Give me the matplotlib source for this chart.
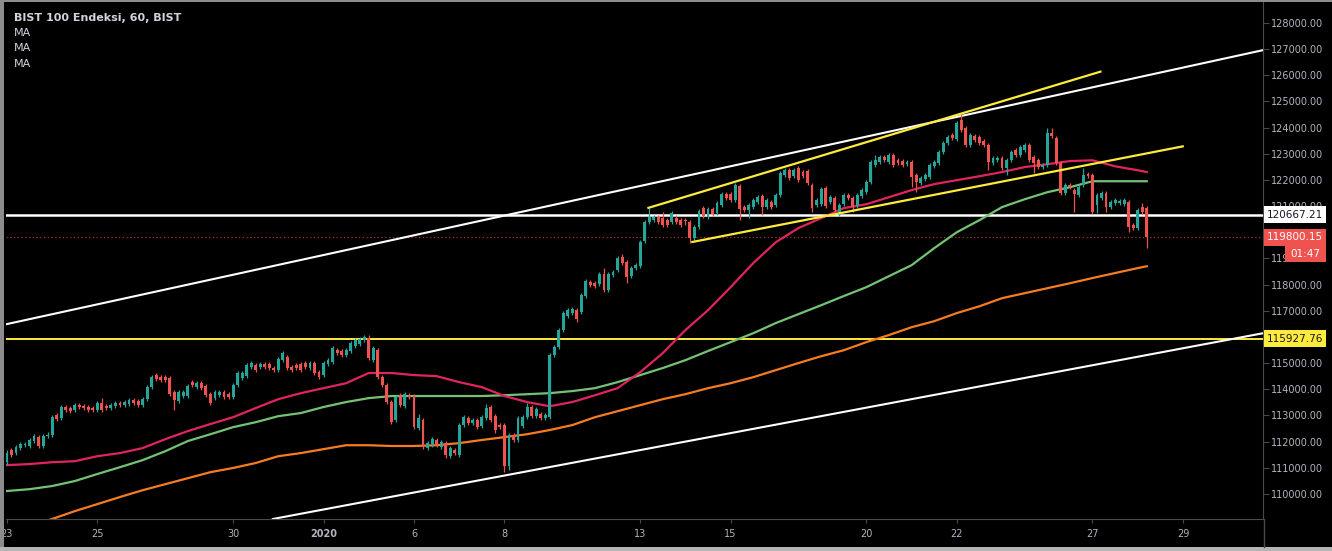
import matplotlib
matplotlib.use("Agg")
import matplotlib.pyplot as plt
import numpy as np
from matplotlib.patches import Rectangle
from matplotlib.lines import Line2D
from matplotlib.transforms import IdentityTransform

# ---------------- data (hourly bars, 10 per trading day) ----------------
open_ = [
    111210,111670,111560,111750,111860,111830,112020,112170,111830,112210,
    112250,113010,112900,113320,113280,113200,113390,113350,113320,113280,
    113200,113470,113350,113280,113350,113470,113390,113430,113580,113550,
    113390,113620,114080,114540,114460,114460,114420,113890,113550,113740,
    113740,114270,114080,114230,114120,113810,113660,113770,113890,113810,
    113700,114160,114420,114500,114840,114920,114840,114960,114960,114810,
    114730,115110,115230,114840,114920,114960,115000,114810,115000,114650,
    114540,114960,115040,115490,115460,115300,115460,115650,115720,115880,
    115950,115110,115490,114460,114160,113510,112820,113770,113350,113770,
    113740,112510,112820,111750,111860,112060,111790,111940,111440,111670,
    111480,112630,112900,112710,112820,112590,112900,113320,112970,112630,
    112630,111060,112250,112060,112590,112930,113320,112970,113050,112900,
    112930,115300,115610,116260,116790,116910,117020,116950,117560,118090,
    118050,118020,118400,117790,118360,118550,119050,118860,118320,118630,
    118700,119660,120390,120460,120580,120540,120460,120390,120540,120460,
    120460,120390,119770,120190,120920,120580,120880,120730,121030,121450,
    121450,121230,121760,120960,120840,120960,121150,121380,120960,121150,
    121030,121420,122180,122370,122140,122450,122300,122330,121800,121030,
    121070,121680,121150,121300,120650,121070,121420,121300,120990,121380,
    121530,121910,122560,122680,122870,122680,122940,122750,122720,122600,
    122680,122180,121870,122030,122100,122520,122640,123060,123400,123710,
    123560,124280,123980,123330,123670,123630,123480,123330,122640,122750,
    122830,122450,122750,123140,122940,123140,123330,122870,122750,122490,
    122560,123790,123600,122640,121490,121800,121610,121420,121800,122220,
    122180,121030,121300,121490,120960,121110,121110,121070,121150,120270,
    120160,120960,120920,
]
high = [
    111670,111750,111860,111980,111980,112130,112280,112250,112280,112360,
    113010,113090,113390,113390,113350,113470,113470,113430,113390,113350,
    113550,113660,113430,113470,113550,113550,113580,113660,113660,113620,
    113700,114160,114540,114620,114540,114540,114500,113970,113970,113970,
    114190,114350,114310,114310,114190,113890,113970,113970,113970,113890,
    114230,114690,114690,115000,115070,115000,115040,115040,115040,114880,
    115230,115460,115300,114920,115000,115040,115070,115070,115070,114730,
    115070,115190,115650,115570,115530,115570,115840,115950,115990,116070,
    116070,115650,115570,114540,114230,113580,113770,113850,113890,113850,
    113810,113050,112900,112020,112170,112130,112060,112020,111830,111750,
    112710,113010,112970,112900,112900,113010,113430,113390,113050,112710,
    112710,112320,112320,112970,113010,113470,113390,113320,113130,113090,
    115380,115690,116330,116980,117100,117140,117100,117670,118210,118170,
    118130,118470,118630,118470,118550,119090,119160,118930,118700,118820,
    119700,120460,120920,120650,120650,120770,120540,120810,120650,120540,
    120540,120460,120270,120880,121000,120960,120960,121190,121530,121530,
    121530,121880,121840,121030,121110,121300,121420,121450,121300,121230,
    121490,122330,122450,122450,122450,122520,122370,122410,121880,121300,
    121720,121760,121420,121380,121110,121490,121490,121380,121490,121680,
    121990,122750,122940,122940,122940,123020,123020,122830,122790,122750,
    122750,122260,122140,122260,122640,122750,123140,123480,123710,123790,
    124240,124510,124050,123790,123750,123710,123560,123400,122910,122910,
    122910,122830,123140,123210,123330,123400,123400,122940,122830,122640,
    123980,123980,123670,122720,121880,121880,121680,121800,122450,122300,
    122260,121490,121570,121570,121230,121300,121260,121300,121230,120350,
    120920,121110,121000,
]
low = [
    111100,111410,111480,111670,111790,111750,111940,111750,111750,112130,
    112170,112780,112820,113130,113090,113130,113240,113200,113130,113130,
    113130,113130,113200,113200,113280,113320,113320,113350,113390,113320,
    113320,113550,114000,114310,114270,114270,113740,113200,113470,113660,
    113660,114080,114000,113970,113700,113390,113580,113700,113620,113620,
    113620,114080,114350,114420,114770,114650,114770,114770,114730,114650,
    114650,115040,114730,114650,114730,114650,114770,114730,114540,114390,
    114460,114880,114960,115300,115230,115230,115380,115570,115650,115800,
    115110,115040,114390,114080,113430,112670,112740,113320,113280,113620,
    112480,112440,111710,111670,111790,111790,111710,111370,111370,111480,
    111410,112550,112630,112630,112480,112510,112820,112740,112320,112480,
    110830,110910,111980,111980,112510,112860,112900,112900,112820,112820,
    112860,115230,115530,116180,116720,116830,116560,116870,117480,117900,
    117870,117940,117710,117710,118280,118470,118740,118050,118250,118550,
    118630,119580,120310,120390,120310,120190,120190,120310,120310,120190,
    120270,119580,119700,120120,120540,120500,120610,120650,120960,121230,
    121150,121150,120460,120770,120540,120880,121070,120650,120880,120880,
    120960,121340,122100,121990,122070,121910,122070,121800,120770,120960,
    120990,120920,121070,120730,120610,120990,121230,120770,120920,121300,
    121450,121840,122490,122600,122680,122600,122490,122560,122490,122530,
    121720,121530,121800,121950,122030,122450,122560,122980,123330,123520,
    123480,123820,123250,123250,123440,123330,123250,122370,122560,122680,
    122370,122180,122680,122870,122870,123060,122680,122260,122410,122410,
    122490,123600,122560,121420,121420,121650,120770,121340,121720,122070,
    120690,120730,121230,120770,120880,121030,121030,120990,120000,120080,
    120080,120690,119390,
]
close = [
    111560,111480,111790,111900,111900,112060,112210,111830,112210,112250,
    112930,112860,113320,113200,113160,113390,113320,113280,113200,113200,
    113470,113200,113280,113390,113470,113390,113510,113580,113470,113390,
    113620,114080,114460,114390,114350,114350,113810,113580,113890,113890,
    114120,114160,114230,114040,113770,113470,113890,113890,113700,113700,
    114160,114620,114620,114920,115000,114730,114960,114840,114810,114730,
    115150,115380,114810,114730,114810,114730,114840,115000,114620,114460,
    115000,115110,115570,115380,115300,115490,115760,115880,115910,115990,
    115190,115570,114460,114160,113510,112740,113700,113390,113810,113700,
    112550,112900,111790,111940,112090,111860,111980,111480,111750,111560,
    112630,112930,112710,112820,112550,112930,113280,112820,112440,112550,
    111060,112250,112060,112900,112930,113320,112970,113240,112900,113010,
    115300,115610,116260,116910,117020,117060,116680,117600,118130,117980,
    117940,118400,117790,118400,118470,119010,118820,118280,118630,118740,
    119620,120390,120580,120580,120390,120270,120270,120730,120390,120270,
    120420,119770,120190,120810,120610,120880,120690,121110,121450,121300,
    121230,121800,120880,120840,121030,121230,121340,120960,121230,120960,
    121420,122260,122370,122070,122370,121990,122140,121880,120920,121230,
    121650,120990,121340,120840,121030,121420,121300,120960,121420,121610,
    121910,122680,122750,122870,122750,122940,122560,122640,122560,122680,
    122100,121910,122070,122180,122560,122680,123060,123400,123630,123590,
    124170,123900,123330,123710,123520,123400,123330,122680,122830,122830,
    122450,122750,123060,122940,123250,123330,122750,122640,122490,122560,
    123790,123670,122640,121490,121800,121720,121450,121720,122180,122140,
    120770,121420,121490,120960,121150,121230,121190,121230,120190,120160,
    120840,120770,119800,
]

# moving averages read every half trading day (bar index)
ma_x = [0, 5, 10, 15, 20, 25, 30, 35, 40, 45, 50, 55, 60, 65, 70, 75, 80, 85,
        90, 95, 100, 105, 110, 115, 120, 125, 130, 135, 140, 145, 150, 155, 160,
        165, 170, 175, 180, 185, 190, 195, 200, 205, 210, 215, 220, 225, 230,
        235, 240, 245, 250, 252]
ma_fast = [111100, 111140, 111210, 111250, 111440, 111560, 111750, 112090, 112400,
           112670, 112930, 113280, 113620, 113850, 114040, 114230, 114620, 114620,
           114540, 114500, 114270, 114080, 113740, 113510, 113350, 113510, 113770,
           114040, 114650, 115380, 116260, 117020, 117900, 118820, 119620, 120160,
           120540, 120920, 121070, 121340, 121610, 121840, 121990, 122140, 122300,
           122490, 122600, 122720, 122750, 122520, 122370, 122300]
ma_mid = [110110, 110180, 110300, 110490, 110760, 111020, 111290, 111630, 112020,
          112280, 112550, 112740, 112970, 113090, 113320, 113510, 113660, 113740,
          113740, 113740, 113740, 113740, 113770, 113810, 113850, 113930, 114040,
          114270, 114540, 114810, 115110, 115460, 115800, 116140, 116530, 116870,
          117210, 117560, 117900, 118320, 118740, 119390, 120000, 120460, 120960,
          121260, 121530, 121720, 121950, 121950, 121950, 121950]
ma_slow = [108500, 108770, 109040, 109340, 109610, 109880, 110140, 110370, 110600,
           110830, 110990, 111180, 111440, 111560, 111710, 111860, 111860, 111830,
           111830, 111860, 111940, 112060, 112170, 112280, 112440, 112630, 112930,
           113160, 113390, 113620, 113810, 114040, 114230, 114460, 114730, 115000,
           115260, 115490, 115800, 116070, 116370, 116600, 116910, 117170, 117480,
           117670, 117860, 118050, 118250, 118440, 118630, 118700]

# drawn levels / trend lines (bar index, price)
level_white = 120667.21
level_yellow = 115927.76
last_price = 119800.15
channel_upper = [(0.0, 116490), (277.7, 126960)]
channel_lower = [(58.8, 109040), (277.7, 116140)]
wedge_upper = [(141.6, 120920), (242.0, 126150)]
wedge_lower = [(151.3, 119620), (260.2, 123290)]

# x-axis labels: bar index of day start -> label
xtick_pos = [0, 20, 50, 70, 90, 110, 140, 160, 190, 210, 240, 260]
xtick_lab = ["23", "25", "30", "2020", "6", "8", "13", "15", "20", "22", "27", "29"]
ytick_vals = list(range(110000, 128001, 1000))
hidden_ticks = [120000, 116000]   # fully covered by price tags

# ---------------- styling ----------------
UP = "#26a69a"
DOWN = "#ef5350"
TXT = "#b2b5be"
AXC = "#4a4a4a"
W, H = 1332, 551
plt.rcParams['font.family'] = ['DejaVu Sans']

fig = plt.figure(figsize=(W / 100, H / 100), dpi=100, facecolor="black")
L, R, T, B = 6, 1263, 2, 519
ax = fig.add_axes([L / W, 1 - B / H, (R - L) / W, (B - T) / H])
ax.set_facecolor("black")
ax.set_xlim(-0.2, 277.7)
ax.set_ylim(109040, 128800)

o = np.array(open_, float); h = np.array(high, float)
l = np.array(low, float); c = np.array(close, float)
x = np.arange(len(c))
cols = np.where(c >= o, UP, DOWN)

# horizontal levels and trend lines
ax.axhline(last_price, color="#a8332f", lw=0.9, ls=(0, (1, 2)), zorder=1)
ax.axhline(level_white, color="white", lw=1.8, zorder=2)
ax.axhline(level_yellow, color="#ffeb3b", lw=1.4, zorder=2)
ax.axline(channel_upper[0], channel_upper[1], color="white", lw=1.5, zorder=2)
ax.axline(channel_lower[0], channel_lower[1], color="white", lw=1.5, zorder=2)
for seg in (wedge_upper, wedge_lower):
    ax.plot([seg[0][0], seg[1][0]], [seg[0][1], seg[1][1]], color="#ffeb3b",
            lw=1.6, zorder=5, solid_capstyle="butt")

ax.plot(ma_x, ma_slow, color="#f57c20", lw=1.6, zorder=3)
ax.plot(ma_x, ma_mid, color="#74c374", lw=1.6, zorder=3)
ax.plot(ma_x, ma_fast, color="#e0245e", lw=1.6, zorder=3)

ax.vlines(x, l, h, colors=cols, lw=0.9, zorder=4)
ax.bar(x, np.maximum(np.abs(c - o), 25), bottom=np.minimum(o, c), width=0.64,
       color=cols, linewidth=0, zorder=4)

# axes / ticks
for s in ("left", "top"):
    ax.spines[s].set_visible(False)
ax.spines["right"].set_color(AXC)
ax.spines["bottom"].set_color(AXC)
ax.yaxis.tick_right()
ax.set_yticks(ytick_vals)
ax.set_yticklabels(["" if v in hidden_ticks else f"{v:.2f}" for v in ytick_vals])
ax.set_xticks(xtick_pos)
ax.set_xticklabels(xtick_lab)
for t in ax.get_xticklabels():
    if t.get_text() == "2020":
        t.set_fontweight("bold")
ax.tick_params(axis="y", colors=AXC, labelcolor=TXT, labelsize=7, length=4, pad=2)
ax.tick_params(axis="x", colors=AXC, labelcolor=TXT, labelsize=7, length=3, pad=4)

# price-axis line continues through the time-axis strip
fig.add_artist(Line2D([R + 0.5, R + 0.5], [4, H - B], transform=IdentityTransform(),
                      color=AXC, lw=1))
# thin light frame of the screenshot (left, top, bottom)
fig.add_artist(Rectangle((0, 0), 4, H, transform=IdentityTransform(), facecolor="#8c8c8c",
                         edgecolor="none"))
fig.add_artist(Rectangle((0, H - 1.5), W, 1.5, transform=IdentityTransform(),
                         facecolor="#8c8c8c", edgecolor="none"))
fig.add_artist(Rectangle((0, 0), W, 4, transform=IdentityTransform(), facecolor="#b4b4b4",
                         edgecolor="none"))

# price tags on the right axis
fig.canvas.draw()
def ypix(price):
    return ax.transData.transform((0, price))[1]

def tag(price, text, fc, tc, x0=1264, x1=1326, hh=17, dy=0):
    yc = ypix(price) - dy
    fig.add_artist(Rectangle((x0, yc - hh / 2), x1 - x0, hh, transform=IdentityTransform(),
                             facecolor=fc, edgecolor="none", zorder=10))
    fig.text((x0 + x1) / 2, yc, text, transform=IdentityTransform(), color=tc,
             fontsize=7.5, ha="center", va="center", zorder=11)

tag(level_white, "120667.21", "white", "#131722")
tag(last_price, "119800.15", "#ef5350", "white")
tag(last_price, "01:47", "#ef5350", "white", x0=1285, hh=16, dy=17)
tag(level_yellow, "115927.76", "#ffeb3b", "#131722")

# legend text
fig.text(14 / W, 1 - 18 / H, "BIST 100 Endeksi, 60, BIST", color="#d1d4dc",
         fontsize=8, fontweight="bold", va="center", ha="left")
for yy in [33, 48, 64]:
    fig.text(14 / W, 1 - yy / H, "MA", color="#d1d4dc", fontsize=8, va="center", ha="left")

fig.savefig("out.png", dpi=100, facecolor="black")
